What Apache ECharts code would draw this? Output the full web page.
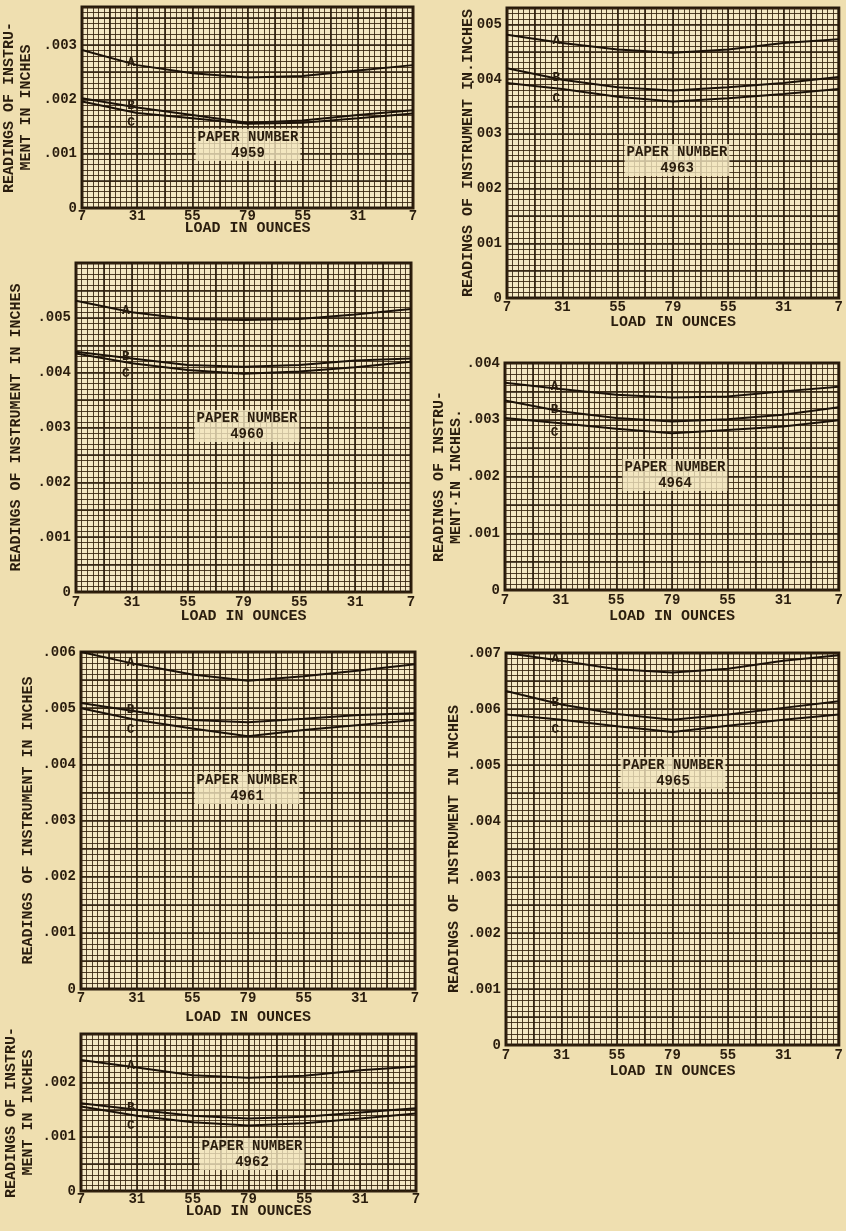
<!DOCTYPE html>
<html><head><meta charset="utf-8">
<script src="https://cdn.jsdelivr.net/npm/echarts@6/dist/echarts.min.js"></script>
<style>html,body{margin:0;padding:0;background:#efdfb0;}#c{width:846px;height:1231px;}</style>
</head><body><div id="c"></div>
<script>
// ---------- DATA ----------
const loadLabels = ['7', '31', '55', '79', '55', '31', '7'];
const curveNames = ['A', 'B', 'C'];

// Paper 4959
const p4959A = [0.00291, 0.00263, 0.00248, 0.00240, 0.00243, 0.00253, 0.00263];
const p4959B = [0.00202, 0.00185, 0.00171, 0.00157, 0.00161, 0.00171, 0.00180];
const p4959C = [0.00196, 0.00175, 0.00165, 0.00155, 0.00157, 0.00165, 0.00174];
const p4959Ticks = ['0', '.001', '.002', '.003'];

// Paper 4963
const p4963A = [0.00481, 0.00466, 0.00454, 0.00448, 0.00454, 0.00466, 0.00473];
const p4963B = [0.00420, 0.00399, 0.00385, 0.00379, 0.00385, 0.00393, 0.00404];
const p4963C = [0.00393, 0.00382, 0.00368, 0.00359, 0.00365, 0.00373, 0.00382];
const p4963Ticks = ['0', '001', '002', '003', '.004', '005'];

// Paper 4960
const p4960A = [0.00531, 0.00510, 0.00498, 0.00496, 0.00498, 0.00506, 0.00516];
const p4960B = [0.00438, 0.00426, 0.00414, 0.00411, 0.00414, 0.00422, 0.00426];
const p4960C = [0.00435, 0.00417, 0.00405, 0.00398, 0.00402, 0.00410, 0.00420];
const p4960Ticks = ['0', '.001', '.002', '.003', '.004', '.005'];

// Paper 4964
const p4964A = [0.00365, 0.00354, 0.00344, 0.00339, 0.00341, 0.00350, 0.00358];
const p4964B = [0.00334, 0.00315, 0.00303, 0.00297, 0.00301, 0.00309, 0.00322];
const p4964C = [0.00303, 0.00294, 0.00284, 0.00276, 0.00282, 0.00288, 0.00299];
const p4964Ticks = ['0', '.001', '.002', '.003', '.004'];

// Paper 4961
const p4961A = [0.00600, 0.00578, 0.00560, 0.00549, 0.00557, 0.00567, 0.00578];
const p4961B = [0.00509, 0.00494, 0.00479, 0.00475, 0.00481, 0.00488, 0.00491];
const p4961C = [0.00500, 0.00479, 0.00464, 0.00450, 0.00461, 0.00470, 0.00479];
const p4961Ticks = ['0', '.001', '.002', '.003', '.004', '.005', '.006'];

// Paper 4965
const p4965A = [0.00700, 0.00686, 0.00671, 0.00665, 0.00672, 0.00686, 0.00696];
const p4965B = [0.00632, 0.00608, 0.00591, 0.00581, 0.00590, 0.00602, 0.00614];
const p4965C = [0.00590, 0.00581, 0.00569, 0.00559, 0.00570, 0.00581, 0.00590];
const p4965Ticks = ['0', '.001', '.002', '.003', '.004', '.005', '.006', '.007'];

// Paper 4962
const p4962A = [0.00242, 0.00228, 0.00214, 0.00209, 0.00213, 0.00223, 0.00230];
const p4962B = [0.00162, 0.00150, 0.00139, 0.00134, 0.00137, 0.00145, 0.00153];
const p4962C = [0.00156, 0.00139, 0.00127, 0.00121, 0.00125, 0.00134, 0.00143];
const p4962Ticks = ['0', '.001', '.002'];

// ---------- PANEL LAYOUT ----------
const panels = [
  { paper: '4959', curves: [p4959A, p4959B, p4959C], ticks: p4959Ticks, max: 0.0037,
    yName: 'READINGS OF INSTRU-\nMENT IN INCHES',
    box: { left: 81, top: 7, width: 332, height: 201 }, yGap: 47, xMargin: 1, xGap: 13, note: [248, 145] },
  { paper: '4963', curves: [p4963A, p4963B, p4963C], ticks: p4963Ticks, max: 0.0053,
    yName: 'READINGS OF INSTRUMENT IN.INCHES',
    box: { left: 507, top: 8, width: 334, height: 290 }, yGap: 30, xMargin: 2, xGap: 17, note: [677, 160] },
  { paper: '4960', curves: [p4960A, p4960B, p4960C], ticks: p4960Ticks, max: 0.006,
    yName: 'READINGS OF INSTRUMENT IN INCHES',
    box: { left: 76, top: 263, width: 335, height: 329 }, yGap: 51, xMargin: 3, xGap: 17, note: [247, 426] },
  { paper: '4964', curves: [p4964A, p4964B, p4964C], ticks: p4964Ticks, max: 0.004,
    yName: 'READINGS OF INSTRU-\nMENT\u00b7IN INCHES.',
    box: { left: 505, top: 363, width: 338, height: 227 }, yGap: 40, xMargin: 3, xGap: 19, note: [675, 475] },
  { paper: '4961', curves: [p4961A, p4961B, p4961C], ticks: p4961Ticks, max: 0.006,
    yName: 'READINGS OF INSTRUMENT IN INCHES',
    box: { left: 81, top: 652, width: 334, height: 337 }, yGap: 44, xMargin: 2, xGap: 21, note: [247, 788] },
  { paper: '4965', curves: [p4965A, p4965B, p4965C], ticks: p4965Ticks, max: 0.007,
    yName: 'READINGS OF INSTRUMENT IN INCHES',
    box: { left: 506, top: 653, width: 333, height: 392 }, yGap: 43, xMargin: 3, xGap: 19, note: [673, 773] },
  { paper: '4962', curves: [p4962A, p4962B, p4962C], ticks: p4962Ticks, max: 0.0029,
    yName: 'READINGS OF INSTRU-\nMENT IN INCHES',
    box: { left: 81, top: 1034, width: 335, height: 157 }, yGap: 44, xMargin: 1, xGap: 13, note: [252, 1154] }
];

// ---------- STYLE ----------
const INK = '#2a1d0e';
const FONT = '"Liberation Mono", "DejaVu Sans Mono", monospace';
const fineLine = { color: 'rgba(52,34,14,0.85)', width: 1 };
const majorLine = { color: 'rgba(34,22,8,0.97)', width: 1.6 };
const labelOffsets = [[-6, 10], [-6, 10], [-6, 22]];

const grid = [], xAxis = [], yAxis = [], series = [], graphic = [];

panels.forEach((p, k) => {
  grid.push(Object.assign({ show: true, backgroundColor: '#f4e8c4', borderColor: INK, borderWidth: 3, z: 0 }, p.box));
  // major x (bottom, labelled)
  xAxis.push({
    type: 'value', gridIndex: k, position: 'bottom', min: 0, max: 6, interval: 0.5,
    axisLine: { show: false }, axisTick: { show: false },
    splitLine: { show: true, lineStyle: majorLine },
    axisLabel: {
      margin: p.xMargin, color: INK, fontFamily: FONT, fontWeight: 'bold', fontSize: 14,
      formatter: v => (Math.abs(v - Math.round(v)) < 1e-6 ? (loadLabels[Math.round(v)] || '') : '')
    },
    name: 'LOAD IN OUNCES', nameLocation: 'middle', nameGap: p.xGap, nameMoveOverlap: false,
    nameTextStyle: { color: INK, fontFamily: FONT, fontWeight: 'bold', fontSize: 15 }
  });
  // fine x (top, unlabelled)
  xAxis.push({
    type: 'value', gridIndex: k, position: 'top', min: 0, max: 6, interval: 0.1,
    axisLine: { show: false }, axisTick: { show: false }, axisLabel: { show: false },
    splitLine: { show: true, lineStyle: fineLine }
  });
  // major y (left, labelled)
  yAxis.push({
    type: 'value', gridIndex: k, position: 'left', min: 0, max: p.max, interval: 0.0005,
    axisLine: { show: false }, axisTick: { show: false },
    splitLine: { show: true, lineStyle: majorLine },
    axisLabel: {
      margin: 5, color: INK, fontFamily: FONT, fontWeight: 'bold', fontSize: 14,
      showMaxLabel: true, showMinLabel: true,
      formatter: v => {
        const m = v * 1000, r = Math.round(m);
        return Math.abs(m - r) < 1e-6 ? (p.ticks[r] || '') : '';
      }
    },
    name: p.yName, nameLocation: 'middle', nameRotate: 90, nameGap: p.yGap, nameMoveOverlap: false,
    nameTextStyle: { color: INK, fontFamily: FONT, fontWeight: 'bold', fontSize: 15, lineHeight: 17 }
  });
  // fine y (right, unlabelled)
  yAxis.push({
    type: 'value', gridIndex: k, position: 'right', min: 0, max: p.max, interval: 0.0001,
    axisLine: { show: false }, axisTick: { show: false }, axisLabel: { show: false },
    splitLine: { show: true, lineStyle: fineLine }
  });

  p.curves.forEach((vals, c) => {
    series.push({
      type: 'line', name: p.paper + curveNames[c],
      xAxisIndex: 2 * k, yAxisIndex: 2 * k,
      symbol: 'circle', symbolSize: 1, showSymbol: true,
      itemStyle: { color: 'rgba(0,0,0,0)' },
      lineStyle: { color: '#1c1208', width: 2 },
      silent: true, animation: false, z: 5,
      data: vals.map((v, i) => i === 1 ? {
        value: [i, v],
        label: {
          show: true, formatter: curveNames[c], position: 'top', offset: labelOffsets[c],
          color: INK, fontFamily: FONT, fontWeight: 'bold', fontSize: 13
        }
      } : [i, v])
    });
  });

  graphic.push({
    type: 'text', x: p.note[0], y: p.note[1], z: 10, silent: true,
    style: {
      text: 'PAPER NUMBER\n' + p.paper, align: 'center', verticalAlign: 'middle',
      fill: INK, font: 'bold 14px ' + FONT, lineHeight: 16,
      backgroundColor: 'rgba(243,230,192,0.8)', padding: [0, 2]
    }
  });
});

const chart = echarts.init(document.getElementById('c'), null, { renderer: 'canvas' });
chart.setOption({
  backgroundColor: '#efdfb0',
  animation: false,
  grid, xAxis, yAxis, series, graphic
});
</script>
</body></html>
